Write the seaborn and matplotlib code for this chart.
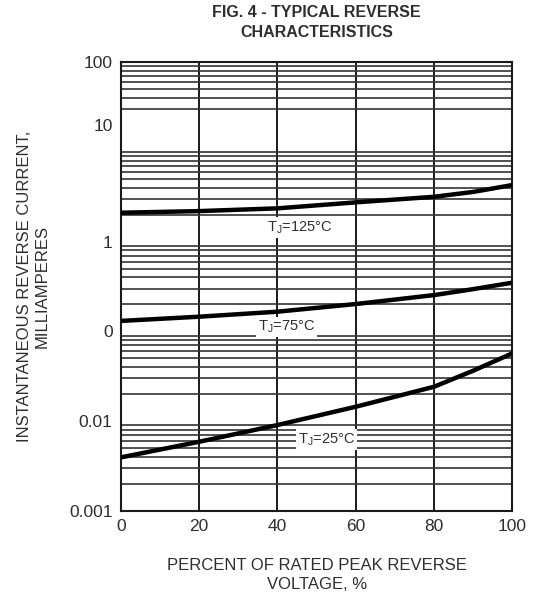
import numpy as np
import pandas as pd
import matplotlib
matplotlib.use("Agg")
import matplotlib.pyplot as plt
import seaborn as sns
from matplotlib.ticker import LogLocator, FixedLocator, FixedFormatter, NullFormatter

# ---- data ----
voltage_pct = [0, 20, 40, 60, 80, 90, 100]
i_125 = [2.10, 2.19, 2.35, 2.74, 3.16, 3.58, 4.27]
i_75 = [0.131, 0.146, 0.166, 0.202, 0.254, 0.296, 0.349]
i_25 = [0.00396, 0.00591, 0.00907, 0.0145, 0.0242, 0.0365, 0.057]
series_names = ["125", "75", "25"]
label_texts = ["T$_\\mathregular{J}$=125°C", "T$_\\mathregular{J}$=75°C", "T$_\\mathregular{J}$=25°C"]
label_x = [45.6, 42.3, 52.6]
label_y = [1.45, 0.112, 0.0062]
ytick_pos = [0.001, 0.01, 0.1, 1, 20, 100]
ytick_labels = ["0.001", "0.01", "0", "1", "10", "100"]
xticks = [0, 20, 40, 60, 80, 100]

df = pd.DataFrame({
    "v": voltage_pct * 3,
    "i": i_125 + i_75 + i_25,
    "t": [series_names[0]] * len(voltage_pct) + [series_names[1]] * len(voltage_pct) + [series_names[2]] * len(voltage_pct),
})

sns.set_style("white")
plt.rcParams['font.family'] = ['Liberation Sans', 'DejaVu Sans']
txt = "#2e2e2e"

fig = plt.figure(figsize=(5.33, 5.97), dpi=100)
ax = fig.add_axes([0.227, 0.144, 0.734, 0.752])

ax.set_yscale("log")
ax.set_ylim(0.001, 100)
ax.set_xlim(0, 100)

sns.lineplot(data=df, x="v", y="i", hue="t", palette=["black"] * 3,
             linewidth=3.2, legend=False, ax=ax, zorder=5)

# grid
ax.yaxis.set_minor_locator(LogLocator(base=10, subs=np.arange(1, 10)))
ax.yaxis.set_minor_formatter(NullFormatter())
ax.grid(True, which="minor", axis="y", color="#333333", linewidth=1.2)
ax.yaxis.set_major_locator(FixedLocator(ytick_pos))
ax.yaxis.set_major_formatter(FixedFormatter(ytick_labels))
ax.set_xticks(xticks)
ax.grid(True, which="major", axis="x", color="#1a1a1a", linewidth=1.4)
ax.tick_params(which="both", length=0, labelsize=12.5, labelcolor=txt, pad=6)

for s in ax.spines.values():
    s.set_visible(True)
    s.set_color("#1a1a1a")
    s.set_linewidth(1.5)

for t, x, y in zip(label_texts, label_x, label_y):
    ax.text(x, y, t, ha="center", va="center", fontsize=10.5, color=txt, zorder=6,
            bbox=dict(facecolor="white", edgecolor="none", pad=1.5))

ax.set_xlabel("PERCENT OF RATED PEAK REVERSE\nVOLTAGE, %", fontsize=12, color=txt,
              labelpad=17, linespacing=1.35)
ax.set_ylabel("INSTANTANEOUS REVERSE CURRENT,\nMILLIAMPERES", fontsize=12, color=txt,
              labelpad=14, linespacing=1.25)
ax.set_title("FIG. 4 - TYPICAL REVERSE\nCHARACTERISTICS", fontsize=11.5, fontweight="bold",
             color=txt, pad=18, linespacing=1.45)

fig.savefig("out.png", dpi=100)
